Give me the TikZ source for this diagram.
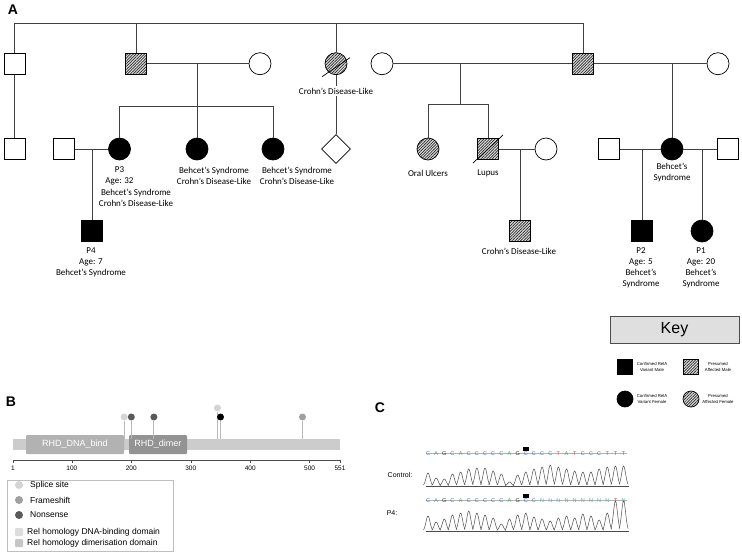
\documentclass[tikz,border=0pt]{standalone}
\usepackage{fontspec}
\setmainfont{Carlito}
\newfontfamily\arialfont{Liberation Sans}
\usetikzlibrary{patterns.meta,shapes.geometric}
\definecolor{splicec}{HTML}{D4D4D4}
\definecolor{framec}{HTML}{A0A0A0}
\definecolor{nonsc}{HTML}{5A5A5A}
\definecolor{baseC}{HTML}{4A6FB0}
\definecolor{baseA}{HTML}{4E9A5A}
\definecolor{baseG}{HTML}{303030}
\definecolor{baseT}{HTML}{C05050}
\definecolor{baseN}{HTML}{6AA8B8}

\begin{document}
\begin{tikzpicture}[x=1pt,y=-1pt,
		male/.style={draw=black, rectangle, minimum size=21pt, inner sep=0pt, line width=0.7pt},
		female/.style={draw=black, circle, minimum size=22pt, inner sep=0pt, line width=0.7pt},
		unknown/.style={draw=black, diamond, minimum size=29pt, inner sep=0pt, line width=0.7pt, shape aspect=1},
		confirmed/.style={fill=black},
		presumed/.style={preaction={fill=gray!25}, pattern={Lines[angle=45,distance=2pt,line width=0.7pt]}, pattern color=black!85},
		lbl/.style={font=\fontsize{9}{11}\selectfont, align=center, inner sep=0pt},
		link/.style={draw=black!75, line width=0.7pt},
		panel/.style={font=\arialfont\bfseries\fontsize{14}{14}\selectfont, inner sep=0pt},
		keytext/.style={font=\arialfont\fontsize{4.3}{5.5}\selectfont, align=center, inner sep=0pt},
		head/.style={circle, inner sep=0pt, minimum size=7pt},
		stick/.style={draw=gray!55, line width=1.2pt},
		btext/.style={font=\arialfont\fontsize{8.5}{10}\selectfont, inner sep=0pt, anchor=west},
		tick/.style={font=\arialfont\fontsize{6.5}{7}\selectfont, inner sep=0pt},
		base/.style={font=\arialfont\fontsize{5.5}{5.5}\selectfont, inner sep=0pt},
		trace/.style={draw=black!70, line width=0.5pt}
	]
	\useasboundingbox (0,0) rectangle (742,555);
	\fill[white] (0,0) rectangle (742,555);

	% A: pedigree
	\node[panel] (pa) at (13,10) {A};
	\coordinate (top) at (0,23);

	\node[male] (s1) at (14.5,63.7) {};
	\node[male] (s1c) at (14.5,148.5) {};
	\node[male, presumed] (m2) at (136,63.7) {};
	\node[female] (w2) at (260,63.7) {};
	\node[female, presumed] (f4) at (336,63.7) {};
	\node[unknown] (f4c) at (336,149) {};
	\node[female] (w5) at (382,63.7) {};
	\node[male, presumed] (m5) at (583,63.7) {};
	\node[female] (w6) at (718,63.7) {};

	\node[male] (h3) at (63.7,149) {};
	\node[female, confirmed] (p3) at (119.5,149) {};
	\node[female, confirmed] (c22) at (197,149) {};
	\node[female, confirmed] (c23) at (273,149) {};
	\node[male, confirmed] (p4) at (92,231) {};

	\node[female, presumed] (ou) at (428,149) {};
	\node[male, presumed] (lupus) at (488,149) {};
	\node[female] (lw) at (546,149) {};
	\node[male, presumed] (lc) at (520,231) {};

	\node[male] (rh1) at (609,149) {};
	\node[female, confirmed] (bs) at (672,149) {};
	\node[male] (rh2) at (728,149) {};
	\node[male, confirmed] (p2) at (642,231) {};
	\node[female, confirmed] (p1) at (702,231) {};

	\coordinate (sib2) at (197,106);
	\coordinate (sib5) at (460,104);

	\draw[link] (s1) -- (s1 |- top) -- (m5 |- top) -- (m5);
	\draw[link] (m2) -- (m2 |- top);
	\draw[link] (f4) -- (f4 |- top);
	\draw[link] (s1) -- (s1c);
	\draw[link] (m2) -- (w2);
	\draw[link] (sib2) -- (sib2 |- w2);
	\draw[link] (p3) -- (p3 |- sib2) -- (c23 |- sib2) -- (c23);
	\draw[link] (c22) -- (sib2);
	\draw[link] (f4) -- (f4c);
	\draw[link] (w5) -- (m5) -- (w6);
	\draw[link] (sib5) -- (sib5 |- m5);
	\draw[link] (ou) -- (ou |- sib5) -- (lupus |- sib5) -- (lupus);
	\draw[link] (bs) -- (bs |- m5);
	\draw[link] (h3) -- (p3);
	\draw[link] (p4) -- (p4 |- h3);
	\draw[link] (lupus) -- (lw);
	\draw[link] (lc) -- (lc |- lw);
	\draw[link] (rh1) -- (bs) -- (rh2);
	\draw[link] (p2) -- (p2 |- bs);
	\draw[link] (p1) -- (p1 |- bs);

	% deceased
	\draw[black, line width=0.7pt] (f4.center) ++(-14,13) -- ++(28,-19);
	\draw[black, line width=0.7pt] (lupus.center) ++(-15,14) -- ++(30,-28);

	\node[lbl, fill=white, inner ysep=2pt] (f4l) at (336,91) {Crohn’s Disease-Like};
	\node[lbl] (p3l) at (119.5,176) {P3\\Age: 32};
	\node[lbl] (p3d) at (136,197.5) {Behcet’s Syndrome\\Crohn’s Disease-Like};
	\node[lbl] (c22l) at (214,175.5) {Behcet’s Syndrome\\Crohn’s Disease-Like};
	\node[lbl] (c23l) at (297,175.5) {Behcet’s Syndrome\\Crohn’s Disease-Like};
	\node[lbl] (p4l) at (91,262) {P4\\Age: 7\\Behcet’s Syndrome};
	\node[lbl] (oul) at (428,173) {Oral Ulcers};
	\node[lbl] (lupusl) at (488,173) {Lupus};
	\node[lbl] (lcl) at (519,251) {Crohn’s Disease-Like};
	\node[lbl] (bsl) at (672,172.5) {Behcet’s\\Syndrome};
	\node[lbl] (p2l) at (641,267.5) {P2\\Age: 5\\Behcet’s\\Syndrome};
	\node[lbl] (p1l) at (701,267.5) {P1\\Age: 20\\Behcet’s\\Syndrome};

	% key
	\node[draw=black!70, fill=gray!25, minimum width=129pt, minimum height=27pt, inner sep=0pt, font=\arialfont\fontsize{16}{16}\selectfont] (key) at (674.5,329.5) {Key};
	\node[male, confirmed, minimum size=15pt] (k1) at (625,367) {};
	\node[male, presumed, minimum size=15pt] (k2) at (691,367) {};
	\node[female, confirmed, minimum size=16pt] (k3) at (625,399) {};
	\node[female, presumed, minimum size=16pt] (k4) at (691,399) {};
	\node[keytext] (k1l) at (652,367) {Confirmed RelA\\Variant Male};
	\node[keytext] (k2l) at (718,367) {Presumed\\Affected Male};
	\node[keytext] (k3l) at (652,399) {Confirmed RelA\\Variant Female};
	\node[keytext] (k4l) at (718,399) {Presumed\\Affected Female};

	% B: RelA protein
	\node[panel] (pb) at (11,402) {B};
	\node[fill=gray!40, minimum width=327pt, minimum height=11pt, inner sep=0pt] (chain) at (176.5,444.5) {};
	\node[fill=gray!60, rounded corners=1pt, minimum width=98pt, minimum height=19pt, inner sep=0pt, text=white, font=\arialfont\fontsize{9}{9}\selectfont] (dna) at (75,444.5) {RHD\_DNA\_bind};
	\node[fill=gray!85!white, rounded corners=1pt, minimum width=58pt, minimum height=19pt, inner sep=0pt, text=white, font=\arialfont\fontsize{9}{9}\selectfont] (dimer) at (158,444.5) {RHD\_dimer};
	\draw[black!70, line width=0.5pt] (13,460) -- (340,460);
	\foreach \r in {1,100,200,300,400,500,551} {
		\draw[black!70, line width=0.5pt] ({13+(\r-1)*0.5945},460) -- ++(0,3);
		\node[tick] (t\r) at ({13+(\r-1)*0.5945},468) {\r};
	}
	\foreach \r/\h/\c [count=\i] in {188/417/splicec, 200/417/nonsc, 238/417/nonsc, 345/408/splicec, 350/417/black, 488/417/framec} {
		\node[head, fill=\c] (h\i) at ({13+(\r-1)*0.5945},\h) {};
		\coordinate (b\i) at ({13+(\r-1)*0.5945},439);
		\draw[stick] (b\i) -- (h\i);
	}

	\draw[gray!50, line width=0.6pt] (7,480) rectangle (173,551);
	\node[head, minimum size=8pt, fill=splicec] (l1) at (19,485) {};
	\node[head, minimum size=8pt, fill=framec] (l2) at (19,500) {};
	\node[head, minimum size=8pt, fill=nonsc] (l3) at (19,515) {};
	\node[fill=splicec!80, rounded corners=1pt, minimum size=8pt, inner sep=0pt] (l4) at (19,532) {};
	\node[fill=gray!45, rounded corners=1pt, minimum size=8pt, inner sep=0pt] (l5) at (19,543) {};
	\node[btext] at (30,485) {Splice site};
	\node[btext] at (30,500) {Frameshift};
	\node[btext] at (30,515) {Nonsense};
	\node[btext] at (27,532) {Rel homology DNA-binding domain};
	\node[btext] at (27,543) {Rel homology dimerisation domain};

	% C: sequencing
	\node[panel] (pc) at (380,408) {C};
	\node[font=\arialfont\fontsize{7}{7}\selectfont, inner sep=0pt] (ctl) at (400,475) {Control:};
	\node[font=\arialfont\fontsize{7}{7}\selectfont, inner sep=0pt] (p4c) at (392,513) {P4:};
	\draw[gray!60, line width=0.4pt] (426,453) -- (627,453);
	\draw[gray!60, line width=0.4pt] (426,500) -- (627,500);
	\fill[black] (523,446.5) rectangle (529,451);
	\fill[black] (523,493.5) rectangle (529,498);
	\foreach \b [count=\i] in {C,A,G,C,A,C,C,C,C,C,A,G,C,C,C,C,T,A,T,C,C,C,T,T,T} {
		\node[base, text=base\b] at ({428+(\i-1)*8.15},454) {\b};
	}
	\foreach \b [count=\i] in {C,A,G,C,A,C,C,C,C,C,A,G,C,C,N,N,N,N,N,N,N,N,N,T,N} {
		\node[base, text=base\b] at ({428+(\i-1)*8.15},501) {\b};
	}
	\draw[trace] (426,486) -- (629,486);
	\foreach \h [count=\i] in {13,8,7,12,14,17,18,18,15,12,4,11,14,17,19,21,19,17,15,14,14,17,19,20,20} {
		\draw[trace] plot[domain=-1:1, samples=15, smooth] ({428+(\i-1)*8.15+\x*4.5},{486-\h*exp(-2.5*\x*\x)});
	}
	\draw[trace] (426,531) -- (629,531);
	\foreach \h [count=\i] in {15,9,12,16,18,20,18,16,13,7,12,16,18,14,12,10,13,15,13,17,15,11,18,30,30} {
		\draw[trace] plot[domain=-1:1, samples=15, smooth] ({428+(\i-1)*8.15+\x*4.5},{531-\h*exp(-2.5*\x*\x)});
	}
\end{tikzpicture}
\end{document}
